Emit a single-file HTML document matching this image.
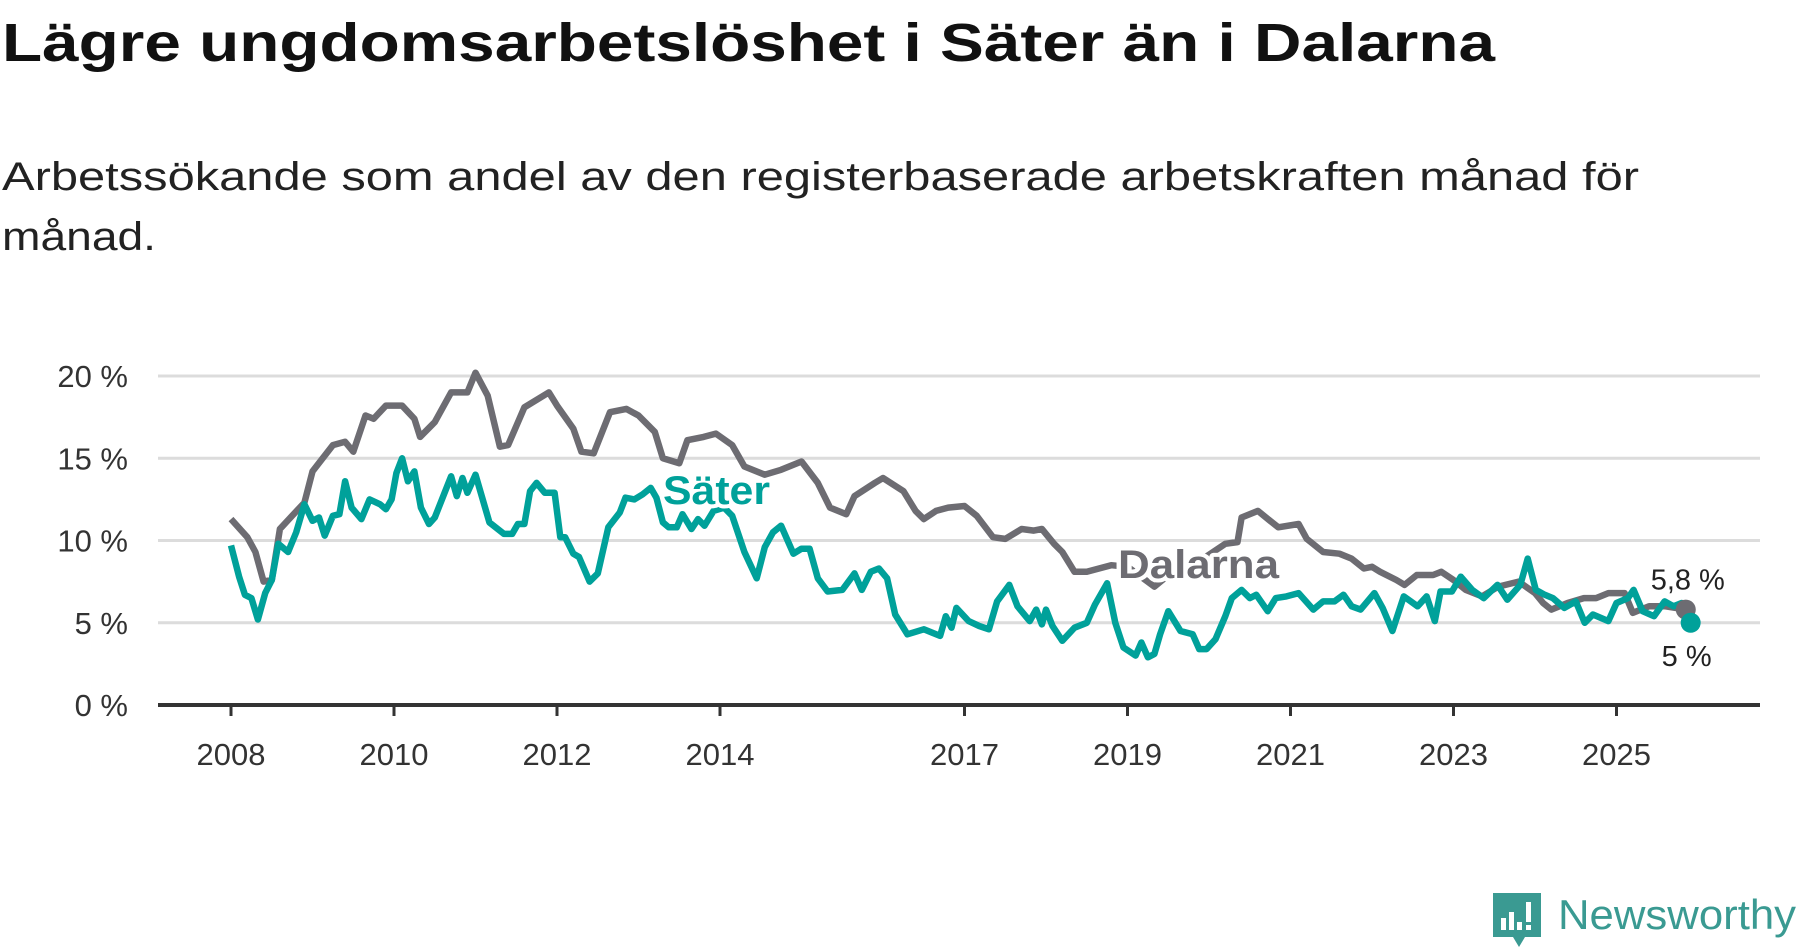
<!DOCTYPE html>
<html><head><meta charset="utf-8"><style>
html,body{margin:0;padding:0;background:#fff;}
svg{display:block;font-family:"Liberation Sans",sans-serif;}
</style></head><body>
<svg id="chart" width="1800" height="948" viewBox="0 0 1800 948">
<text x="2" y="61" font-size="54" font-weight="bold" fill="#111" textLength="1493" lengthAdjust="spacingAndGlyphs">Lägre ungdomsarbetslöshet i Säter än i Dalarna</text>
<text x="2" y="190" font-size="40" fill="#222" textLength="1637" lengthAdjust="spacingAndGlyphs">Arbetssökande som andel av den registerbaserade arbetskraften månad för</text>
<text x="2" y="250" font-size="40" fill="#222" textLength="154" lengthAdjust="spacingAndGlyphs">månad.</text>
<g id="grid"></g><g id="axes"></g><g id="lines"></g><g id="labels"></g>
<g>
<path d="M1493 893 h48 v44 h-16 l-6 10 l-6 -10 h-20 z" fill="#3a9a92"/>
<rect x="1501" y="918" width="5" height="12" fill="#fff"/><rect x="1509" y="912" width="5" height="18" fill="#fff"/><rect x="1517" y="922" width="5" height="8" fill="#fff"/><rect x="1526" y="902" width="5" height="20" fill="#fff"/><rect x="1526" y="925" width="5" height="5" fill="#fff"/>
<text x="1558" y="929" font-size="42" fill="#3a9a92" textLength="238" lengthAdjust="spacingAndGlyphs">Newsworthy</text>
</g>
</svg>
<script>
const dalDates=[2008.0,2008.2,2008.3,2008.4,2008.5,2008.6,2008.75,2008.9,2009.0,2009.25,2009.4,2009.5,2009.65,2009.75,2009.9,2010.1,2010.25,2010.32,2010.5,2010.7,2010.9,2011.0,2011.15,2011.3,2011.4,2011.6,2011.9,2012.0,2012.2,2012.3,2012.45,2012.65,2012.85,2013.0,2013.2,2013.3,2013.5,2013.6,2013.8,2013.95,2014.15,2014.3,2014.55,2014.75,2015.0,2015.2,2015.35,2015.55,2015.65,2015.9,2016.0,2016.25,2016.4,2016.5,2016.65,2016.8,2017.0,2017.15,2017.35,2017.5,2017.7,2017.85,2017.95,2018.1,2018.2,2018.35,2018.5,2018.65,2018.8,2019.0,2019.33,2019.6,2019.9,2020.2,2020.35,2020.4,2020.6,2020.75,2020.85,2021.1,2021.2,2021.4,2021.6,2021.75,2021.9,2022.0,2022.1,2022.3,2022.4,2022.55,2022.75,2022.85,2023.0,2023.15,2023.35,2023.55,2023.8,2024.0,2024.1,2024.2,2024.4,2024.6,2024.75,2024.9,2025.1,2025.2,2025.4,2025.6,2025.85];
const dalVals=[11.3,10.2,9.3,7.5,7.6,10.7,11.5,12.3,14.2,15.8,16.0,15.4,17.6,17.4,18.2,18.2,17.4,16.3,17.2,19.0,19.0,20.2,18.8,15.7,15.8,18.1,19.0,18.2,16.8,15.4,15.3,17.8,18.0,17.6,16.6,15.0,14.7,16.1,16.3,16.5,15.8,14.5,14.0,14.3,14.8,13.5,12.0,11.6,12.7,13.5,13.8,13.0,11.8,11.3,11.8,12.0,12.1,11.5,10.2,10.1,10.7,10.6,10.7,9.8,9.3,8.1,8.1,8.3,8.5,8.4,7.2,8.3,8.8,9.8,9.9,11.4,11.8,11.2,10.8,11.0,10.1,9.3,9.2,8.9,8.3,8.4,8.1,7.6,7.3,7.9,7.9,8.1,7.6,7.0,6.6,7.2,7.5,6.8,6.2,5.8,6.2,6.5,6.5,6.8,6.8,5.6,6.0,6.0,5.8];
const satDates=[2008.0,2008.1,2008.17,2008.25,2008.33,2008.42,2008.5,2008.58,2008.7,2008.8,
2008.9,2009.0,2009.08,2009.15,2009.25,2009.33,2009.4,2009.48,2009.6,2009.7,
2009.83,2009.9,2009.97,2010.03,2010.1,2010.17,2010.25,2010.33,2010.43,2010.5,
2010.7,2010.77,2010.84,2010.9,2011.0,2011.17,2011.35,2011.45,2011.52,2011.6,
2011.67,2011.75,2011.85,2011.97,2012.04,2012.1,2012.2,2012.27,2012.4,2012.5,
2012.63,2012.77,2012.84,2012.95,2013.05,2013.15,2013.22,2013.3,2013.37,2013.47,
2013.54,2013.65,2013.73,2013.81,2013.92,2014.05,2014.15,2014.3,2014.45,2014.55,
2014.65,2014.75,2014.9,2015.0,2015.1,2015.2,2015.32,2015.5,2015.65,2015.74,
2015.85,2015.95,2016.05,2016.15,2016.3,2016.5,2016.7,2016.77,2016.84,2016.9,
2017.05,2017.18,2017.3,2017.4,2017.55,2017.65,2017.8,2017.88,2017.95,2018.0,
2018.08,2018.2,2018.35,2018.5,2018.6,2018.75,2018.85,2018.95,2019.1,2019.17,
2019.25,2019.33,2019.4,2019.5,2019.65,2019.8,2019.88,2019.97,2020.08,2020.2,
2020.28,2020.4,2020.5,2020.58,2020.72,2020.82,2020.95,2021.1,2021.28,
2021.4,2021.54,2021.65,2021.75,2021.86,2022.03,2022.13,2022.25,2022.39,2022.56,
2022.67,2022.77,2022.84,2022.98,2023.09,2023.23,2023.37,2023.54,2023.66,2023.82,
2023.91,2024.01,2024.12,2024.22,2024.36,2024.5,2024.61,2024.71,2024.9,2025.0,
2025.14,2025.21,2025.32,2025.46,2025.59,2025.7,2025.8,2025.91];
const satVals=[9.7,7.8,6.7,6.5,5.2,6.8,7.6,9.8,9.3,10.5,12.2,11.2,11.4,10.3,11.5,11.6,13.6,12.0,11.3,12.5,12.2,11.9,12.5,14.1,15.0,13.6,14.2,12.0,11.0,11.4,13.9,12.7,13.8,12.9,14.0,11.1,10.4,10.4,11.0,11.0,13.0,13.5,12.9,12.9,10.2,10.2,9.2,9.0,7.5,8.0,10.8,11.7,12.6,12.5,12.8,13.2,12.6,11.1,10.8,10.8,11.6,10.7,11.3,10.9,11.8,12.0,11.5,9.3,7.7,9.6,10.5,10.9,9.2,9.5,9.5,7.7,6.9,7.0,8.0,7.0,8.1,8.3,7.7,5.5,4.3,4.6,4.2,5.4,4.7,5.9,5.1,4.8,4.6,6.3,7.3,6.0,5.1,5.8,4.9,5.8,4.8,3.9,4.7,5.0,6.1,7.4,5.0,3.5,3.0,3.8,2.9,3.1,4.3,5.7,4.5,4.3,3.4,3.4,4.0,5.4,6.5,7.0,6.5,6.7,5.7,6.5,6.6,6.8,5.8,6.3,6.3,6.7,6.0,5.8,6.8,5.9,4.5,6.6,6.0,6.6,5.1,6.9,6.9,7.8,7.0,6.5,7.3,6.4,7.3,8.9,7.0,6.7,6.5,5.9,6.3,5.0,5.5,5.1,6.2,6.5,7.0,5.7,5.4,6.3,6.0,6.2,5.0];
const yTicks=[0,5,10,15,20];
const yTickLabels=["0 %","5 %","10 %","15 %","20 %"];
const xTicks=[2008,2010,2012,2014,2017,2019,2021,2023,2025];
const endLabels=["5,8 %","5 %"];

const NS="http://www.w3.org/2000/svg";
const X=y=>231+(y-2008)*81.5;
const Y=v=>705-v*16.45;
function mk(tag,attrs,parent){const e=document.createElementNS(NS,tag);for(const k in attrs)e.setAttribute(k,attrs[k]);parent.appendChild(e);return e;}
const grid=document.getElementById('grid'),axes=document.getElementById('axes'),lines=document.getElementById('lines'),labels=document.getElementById('labels');
yTicks.forEach((t,i)=>{
  if(t>0){const g=mk('line',{x1:158,x2:1760,y1:Y(t),y2:Y(t),stroke:'#dcdcdc','stroke-width':3},grid);
  
  }
  const tx=mk('text',{x:128,y:Y(t)+11,'font-size':31,fill:'#333','text-anchor':'end'},axes);
  tx.textContent=yTickLabels[i];
  
  
});
const ax=mk('line',{x1:158,x2:1760,y1:705,y2:705,stroke:'#333','stroke-width':4},axes);


xTicks.forEach(t=>{
  mk('line',{x1:X(t),x2:X(t),y1:705,y2:716,stroke:'#333','stroke-width':3},axes);
  const tx=mk('text',{x:X(t),y:765,'font-size':31,fill:'#333','text-anchor':'middle'},axes);
  tx.textContent=String(t);
  
  
});
function path(d,v){const n=Math.min(d.length,v.length);let s='';for(let i=0;i<n;i++)s+=(i?'L':'M')+X(d[i]).toFixed(1)+' '+Y(v[i]).toFixed(1);return s;}
const pd=mk('path',{d:path(dalDates,dalVals),fill:'none',stroke:'#6d6c72','stroke-width':6.5,'stroke-linejoin':'round'},lines);


const ps=mk('path',{d:path(satDates,satVals),fill:'none',stroke:'#00a19a','stroke-width':6.5,'stroke-linejoin':'round'},lines);


const dl=Math.min(dalDates.length,dalVals.length)-1,sl=Math.min(satDates.length,satVals.length)-1;
const cd=mk('circle',{cx:X(dalDates[dl]),cy:Y(dalVals[dl]),r:10,fill:'#6d6c72'},lines);


const cs=mk('circle',{cx:X(satDates[sl]),cy:Y(satVals[sl]),r:10,fill:'#00a19a'},lines);


const t1=mk('text',{x:X(dalDates[dl])+2,y:Y(dalVals[dl])-20,'font-size':29,fill:'#222','text-anchor':'middle',stroke:'#fff','stroke-width':6,'paint-order':'stroke'},labels);
t1.textContent=endLabels[0];


const t2=mk('text',{x:X(satDates[sl])-4,y:Y(satVals[sl])+43,'font-size':29,fill:'#222','text-anchor':'middle',stroke:'#fff','stroke-width':6,'paint-order':'stroke'},labels);
t2.textContent=endLabels[1];


const ls=mk('text',{x:663,y:504,'font-size':40,'font-weight':'bold',fill:'#00a19a',stroke:'#fff','stroke-width':8,'paint-order':'stroke','stroke-linejoin':'round',textLength:107,lengthAdjust:'spacingAndGlyphs'},labels);
ls.textContent='Säter';


const ld=mk('text',{x:1118,y:578,'font-size':40,'font-weight':'bold',fill:'#6d6c72',stroke:'#fff','stroke-width':8,'paint-order':'stroke','stroke-linejoin':'round',textLength:161,lengthAdjust:'spacingAndGlyphs'},labels);
ld.textContent='Dalarna';


</script>
</body></html>
